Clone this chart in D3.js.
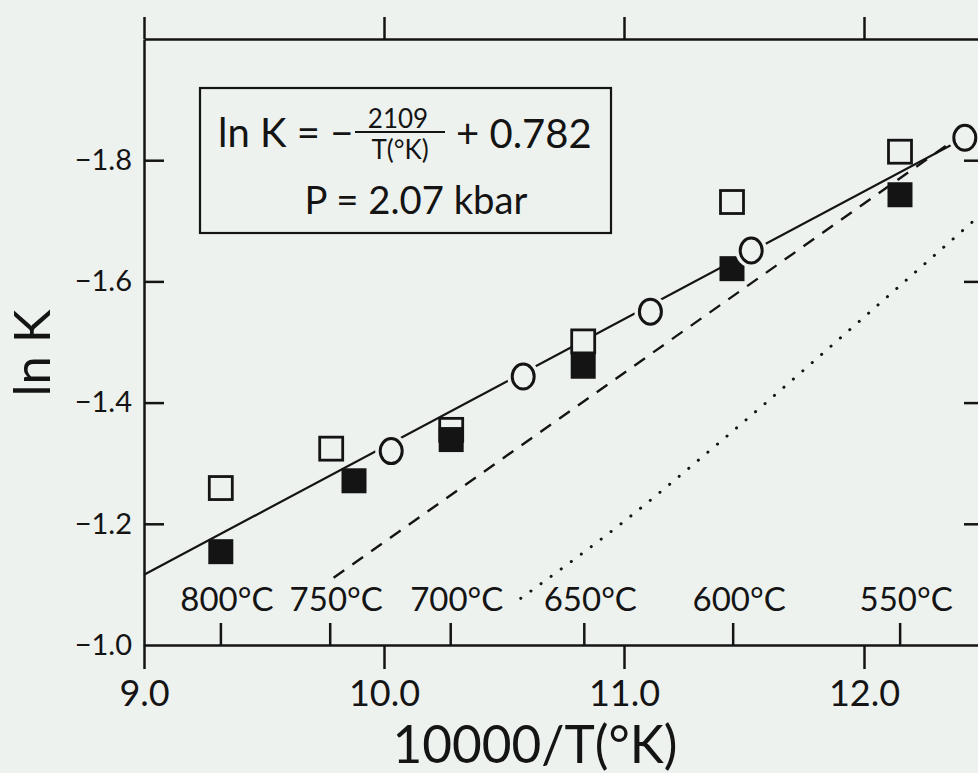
<!DOCTYPE html>
<html lang="en">

<head>
	<meta charset="utf-8">
	<title>ln K vs 10000/T</title>
	<style>
		html,
		body {
			margin: 0;
			padding: 0;
			background: #eef2ef;
		}

		svg {
			display: block;
		}

		text {
			font-family: Lato, "Open Sans", sans-serif;
			font-weight: 400;
			fill: #141414;
		}
	</style>
</head>

<body>
	<script src="https://cdn.jsdelivr.net/npm/d3@7"></script>
	<script>
		// axis values
		const xTicks = [9.0, 10.0, 11.0, 12.0];
		const yTicks = [-1.0, -1.2, -1.4, -1.6, -1.8];
		const tempTicks = [800, 750, 700, 650, 600, 550];

		// open squares
		const openX = [9.32, 9.78, 10.28, 10.83, 11.45, 12.15];
		const openY = [-1.259, -1.324, -1.355, -1.501, -1.731, -1.814];

		// filled squares
		const filledX = [9.32, 9.875, 10.28, 10.83, 11.45, 12.15];
		const filledY = [-1.154, -1.271, -1.339, -1.460, -1.621, -1.743];

		// open circles on the fitted line
		const circX = [10.03, 10.58, 11.11, 11.53, 12.42];
		const circY = [-1.320, -1.443, -1.550, -1.651, -1.837];

		// solid (fit), dashed and dotted lines
		const fitX = [9.0, 12.5];
		const fitY = [-1.116, -1.854];
		const dashX = [9.79, 12.35];
		const dashY = [-1.111, -1.826];
		const dotX = [10.57, 11.01, 11.37, 12.13, 12.48];
		const dotY = [-1.077, -1.207, -1.325, -1.586, -1.708];

		const width = 978, height = 773;
		const ink = "#141414", paper = "#eef2ef";

		const x = d3.scaleLinear().domain([9.0, 12.5]).range([144, 984]);
		const y = d3.scaleLinear().domain([-1.0, -2.0]).range([645, 39]);

		const svg = d3.select(document.body)
			.append("svg")
			.attr("width", width)
			.attr("height", height);

		function styleAxis(g, size) {
			g.attr("font-family", null).attr("font-size", size);
			g.selectAll("path, line").attr("stroke", ink).attr("stroke-width", 2.5);
		}

		// bottom axis
		svg.append("g")
			.attr("transform", `translate(0,${y(-1.0)})`)
			.call(d3.axisBottom(x).tickValues(xTicks).tickSize(24).tickSizeOuter(0)
				.tickPadding(11).tickFormat(d3.format(".1f")))
			.call(g => styleAxis(g, 36));

		// temperature marks, inside the bottom axis
		const toX = t => 10000 / (t + 273.15);
		svg.append("g")
			.attr("transform", `translate(0,${y(-1.0)})`)
			.call(d3.axisTop(x).tickValues(tempTicks.map(toX)).tickSize(22).tickPadding(12)
				.tickFormat((d, i) => tempTicks[i] + "°C"))
			.call(g => g.select(".domain").remove())
			.call(g => styleAxis(g, 33))
			.call(g => g.selectAll("text").attr("dx", 6));

		// top axis
		svg.append("g")
			.attr("transform", `translate(0,${y(-2.0)})`)
			.call(d3.axisTop(x).tickValues(xTicks).tickSize(22).tickSizeOuter(0).tickFormat(""))
			.call(g => styleAxis(g, 10));

		// left axis, ticks inward
		svg.append("g")
			.attr("transform", `translate(${x(9.0)},0)`)
			.call(d3.axisLeft(y).tickValues(yTicks).tickSize(-20).tickSizeOuter(0)
				.tickPadding(12).tickFormat(d3.format(".1f")))
			.call(g => styleAxis(g, 29))
			.call(g => g.selectAll(".tick").filter(d => d === -1.0).select("line").remove());

		// right axis (just off the page), ticks inward
		svg.append("g")
			.attr("transform", `translate(${x(12.5)},0)`)
			.call(d3.axisLeft(y).tickValues(yTicks.slice(1)).tickSize(20).tickSizeOuter(0).tickFormat(""))
			.call(g => styleAxis(g, 10));

		// axis titles
		svg.append("text")
			.attr("x", 535)
			.attr("y", 763)
			.attr("text-anchor", "middle")
			.attr("font-size", 52)
			.attr("textLength", 285)
			.attr("lengthAdjust", "spacingAndGlyphs")
			.text("10000/T(°K)");

		svg.append("text")
			.attr("transform", "translate(50,353) rotate(-90)")
			.attr("text-anchor", "middle")
			.attr("font-size", 51)
			.attr("textLength", 87)
			.attr("lengthAdjust", "spacingAndGlyphs")
			.text("ln K");

		// lines
		const line = d3.line().x(d => x(d[0])).y(d => y(d[1]));
		const plot = svg.append("g");

		plot.append("path")
			.attr("d", line(d3.zip(fitX, fitY)))
			.attr("fill", "none").attr("stroke", ink).attr("stroke-width", 2.2);

		plot.append("path")
			.attr("d", line(d3.zip(dashX, dashY)))
			.attr("fill", "none").attr("stroke", ink).attr("stroke-width", 2.4)
			.attr("stroke-dasharray", "13 10");

		plot.append("path")
			.attr("d", line.curve(d3.curveMonotoneX)(d3.zip(dotX, dotY)))
			.attr("fill", "none").attr("stroke", ink).attr("stroke-width", 3)
			.attr("stroke-linecap", "round")
			.attr("stroke-dasharray", "0.1 12.4");

		// squares
		const sq = 23;
		plot.selectAll("rect.open")
			.data(d3.zip(openX, openY))
			.join("rect")
			.attr("class", "open")
			.attr("x", d => x(d[0]) - sq / 2)
			.attr("y", d => y(d[1]) - sq / 2)
			.attr("width", sq).attr("height", sq)
			.attr("fill", paper).attr("stroke", ink).attr("stroke-width", 2.8);

		plot.selectAll("rect.filled")
			.data(d3.zip(filledX, filledY))
			.join("rect")
			.attr("class", "filled")
			.attr("x", d => x(d[0]) - (sq + 2) / 2)
			.attr("y", d => y(d[1]) - (sq + 2) / 2)
			.attr("width", sq + 2).attr("height", sq + 2)
			.attr("fill", ink);

		// circles, with a paper-coloured gap round them
		const circ = d3.zip(circX, circY);
		plot.selectAll("ellipse.halo")
			.data(circ)
			.join("ellipse")
			.attr("class", "halo")
			.attr("cx", d => x(d[0])).attr("cy", d => y(d[1]))
			.attr("rx", 16).attr("ry", 17)
			.attr("fill", paper);

		plot.selectAll("ellipse.pt")
			.data(circ)
			.join("ellipse")
			.attr("class", "pt")
			.attr("cx", d => x(d[0])).attr("cy", d => y(d[1]))
			.attr("rx", 11).attr("ry", 12.5)
			.attr("fill", "none").attr("stroke", ink).attr("stroke-width", 3);

		// equation box
		const box = svg.append("g");
		box.append("rect")
			.attr("x", 200).attr("y", 88)
			.attr("width", 411).attr("height", 145)
			.attr("fill", "none").attr("stroke", ink).attr("stroke-width", 2.2);

		box.append("text")
			.attr("x", 218).attr("y", 147)
			.attr("font-size", 40)
			.text("ln K = −");

		box.append("text")
			.attr("x", 398).attr("y", 128)
			.attr("text-anchor", "middle")
			.attr("font-size", 26)
			.text("2109");

		box.append("line")
			.attr("x1", 355).attr("x2", 445)
			.attr("y1", 132).attr("y2", 132)
			.attr("stroke", ink).attr("stroke-width", 2.2);

		box.append("text")
			.attr("x", 400).attr("y", 159)
			.attr("text-anchor", "middle")
			.attr("font-size", 26)
			.text("T(°K)");

		box.append("text")
			.attr("x", 456).attr("y", 148)
			.attr("font-size", 40)
			.text("+ 0.782");

		box.append("text")
			.attr("x", 416).attr("y", 214)
			.attr("text-anchor", "middle")
			.attr("font-size", 38)
			.attr("textLength", 223)
			.attr("lengthAdjust", "spacingAndGlyphs")
			.text("P = 2.07 kbar");
	</script>
</body>

</html>
